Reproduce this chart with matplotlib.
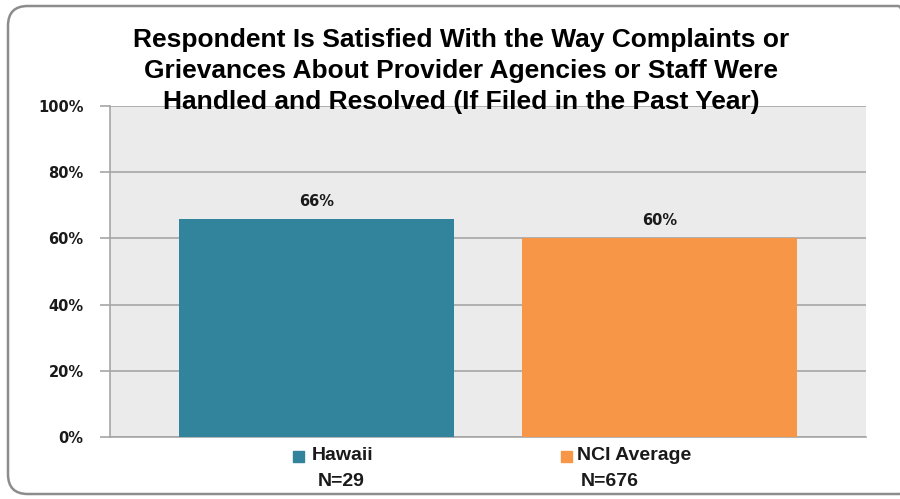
import matplotlib.pyplot as plt
from matplotlib.patches import FancyBboxPatch
from matplotlib.ticker import PercentFormatter

# data
groups = ['Hawaii', 'NCI Average']
n_labels = ['N=29', 'N=676']
values = [66, 60]
colors = ['#31849B', '#F79646']
title = ('Respondent Is Satisfied With the Way Complaints or\n'
         'Grievances About Provider Agencies or Staff Were\n'
         'Handled and Resolved (If Filed in the Past Year)')

fig = plt.figure(figsize=(9, 4.99), dpi=100)
ax = fig.add_axes([110/900, 1-437/499, 756/900, 331/499])

# outer rounded frame, runs off the right edge
frame = FancyBboxPatch((8/900, 5/499), 910/900, 488/499, boxstyle='round,pad=0,rounding_size=0.022',
                       transform=fig.transFigure, fill=False, ec='#8C8C8C', lw=1.8, clip_on=False,
                       mutation_aspect=900/499)
fig.add_artist(frame)

x = range(len(groups))
ax.bar(x, values, width=0.8, color=colors, zorder=3)
for xi, v in zip(x, values):
    ax.text(xi, v + 3, f'{v}%', ha='center', va='bottom', fontsize=10.5, fontweight='bold',
            family='DejaVu Sans', color='#1a1a1a')

ax.set_xlim(-0.6, 1.6)
ax.set_ylim(0, 100)
ax.set_yticks(range(0, 101, 20))
ax.yaxis.set_major_formatter(PercentFormatter(decimals=0))
ax.set_facecolor('#EBEBEB')
ax.grid(axis='y', color='#A6A6A6', lw=1.2, zorder=1)
ax.set_xticks([])
for s in ['top', 'right']:
    ax.spines[s].set_visible(False)
for s in ['left', 'bottom']:
    ax.spines[s].set_color('#A6A6A6')
    ax.spines[s].set_linewidth(1.2)
ax.tick_params(axis='y', length=7, color='#A6A6A6', width=1.2, pad=12,
               labelsize=10.5, labelcolor='#1a1a1a')
for lab in ax.get_yticklabels():
    lab.set_fontweight('bold')
    lab.set_family('DejaVu Sans')

fig.text(461/900, 1-71/499, title, ha='center', va='center', fontsize=19, fontweight='bold',
         family='Liberation Sans', linespacing=1.38, color='black')

# category key under the axis
sq_x = [298/900, 566/900]
txt_x = [312/900, 577/900]
n_x = [341/900, 610/900]
for i in range(len(groups)):
    fig.patches.append(plt.Rectangle((sq_x[i] - 5/900, 1-462/499), 11/900, 11/499,
                                     transform=fig.transFigure, color=colors[i]))
    fig.text(txt_x[i], 1-456/499, groups[i], ha='left', va='center', fontsize=14,
             fontweight='bold', family='Liberation Sans', color='#1a1a1a')
    fig.text(n_x[i], 1-482/499, n_labels[i], ha='center', va='center', fontsize=14,
             fontweight='bold', family='Liberation Sans', color='#1a1a1a')

fig.savefig('out.png', dpi=100)
